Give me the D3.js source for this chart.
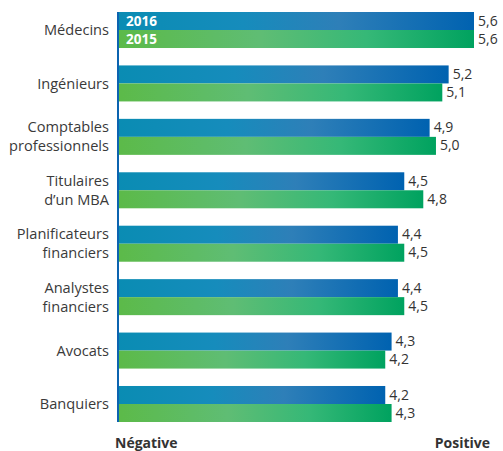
<!DOCTYPE html>
<html>
<head>
<meta charset="utf-8">
<script src="https://cdn.jsdelivr.net/npm/d3@7"></script>
<style>
  html, body { margin: 0; padding: 0; background: #fff; }
  svg { display: block; font-family: "Open Sans", sans-serif; }
</style>
</head>
<body>
<svg id="chart" width="503" height="451"></svg>
<script>
const categories = [
  ["Médecins"],
  ["Ingénieurs"],
  ["Comptables", "professionnels"],
  ["Titulaires", "d’un MBA"],
  ["Planificateurs", "financiers"],
  ["Analystes", "financiers"],
  ["Avocats"],
  ["Banquiers"]
];
const seriesNames = ["2016", "2015"];
const values2016 = [5.6, 5.2, 4.9, 4.5, 4.4, 4.4, 4.3, 4.2];
const values2015 = [5.6, 5.1, 5.0, 4.8, 4.5, 4.5, 4.2, 4.3];
const axisLabels = ["Négative", "Positive"];

const svg = d3.select("#chart");
const defs = svg.append("defs");

function grad(id, stops) {
  const g = defs.append("linearGradient").attr("id", id)
    .attr("x1", "0%").attr("x2", "100%").attr("y1", "0%").attr("y2", "0%");
  stops.forEach(s => g.append("stop").attr("offset", s[0]).attr("stop-color", s[1]));
}
grad("g2016", [["0%", "#0a8cb3"], ["35%", "#168cbc"], ["62%", "#2e7fb8"], ["100%", "#0062b0"]]);
grad("g2015", [["0%", "#5cba49"], ["40%", "#5fbd74"], ["70%", "#35b877"], ["100%", "#00a25f"]]);

const catKeys = categories.map((c, i) => i);
const x = d3.scaleLinear().domain([0, 5.6]).range([119, 474]);
const y = d3.scaleBand().domain(catKeys).range([12, 422]).paddingInner(0.326);
const ySub = d3.scaleBand().domain(seriesNames).range([0, y.bandwidth()]);

const data = catKeys.map(i => ({
  i,
  bars: [
    { s: "2016", v: values2016[i] },
    { s: "2015", v: values2015[i] }
  ]
}));

const groups = svg.append("g").selectAll("g").data(data).join("g")
  .attr("transform", d => `translate(0,${y(d.i)})`);

groups.selectAll("rect").data(d => d.bars).join("rect")
  .attr("x", x(0))
  .attr("y", d => ySub(d.s))
  .attr("width", d => x(d.v) - x(0))
  .attr("height", ySub.bandwidth())
  .attr("fill", d => d.s === "2016" ? "url(#g2016)" : "url(#g2015)");

const fmt = v => d3.format(".1f")(v).replace(".", ",");
groups.selectAll("text.val").data(d => d.bars).join("text")
  .attr("class", "val")
  .attr("x", d => x(d.v) + 4)
  .attr("y", d => ySub(d.s) + ySub.bandwidth() / 2)
  .attr("dy", "0.33em")
  .attr("font-size", 14)
  .attr("fill", "#333")
  .text(d => fmt(d.v));

// category labels
const lineH = 19;
groups.append("text")
  .attr("text-anchor", "end")
  .attr("font-size", 14.6)
  .attr("fill", "#3a3a3a")
  .each(function(d) {
    const lines = categories[d.i];
    const t = d3.select(this);
    const cy = y.bandwidth() / 2;
    lines.forEach((ln, k) => {
      t.append("tspan")
        .attr("x", 109)
        .attr("y", cy + (k - (lines.length - 1) / 2) * lineH)
        .attr("dy", "0.35em")
        .text(ln);
    });
  });

// legend inside first bars
svg.append("g").selectAll("text").data(seriesNames).join("text")
  .attr("x", 126)
  .attr("y", s => y(0) + ySub(s) + ySub.bandwidth() / 2)
  .attr("dy", "0.36em")
  .attr("font-size", 13.5)
  .attr("font-weight", "bold")
  .attr("fill", "#fff")
  .text(s => s);

// axis line
svg.append("line")
  .attr("x1", 118).attr("x2", 118)
  .attr("y1", y.range()[0]).attr("y2", y.range()[1])
  .attr("stroke", "#0b63b0").attr("stroke-width", 2);

// bottom labels
svg.append("text").attr("x", 115).attr("y", 448)
  .attr("font-size", 14).attr("font-weight", "bold").attr("fill", "#333")
  .text(axisLabels[0]);
svg.append("text").attr("x", 490).attr("y", 448).attr("text-anchor", "end")
  .attr("font-size", 14).attr("font-weight", "bold").attr("fill", "#333")
  .text(axisLabels[1]);
</script>
</body>
</html>
